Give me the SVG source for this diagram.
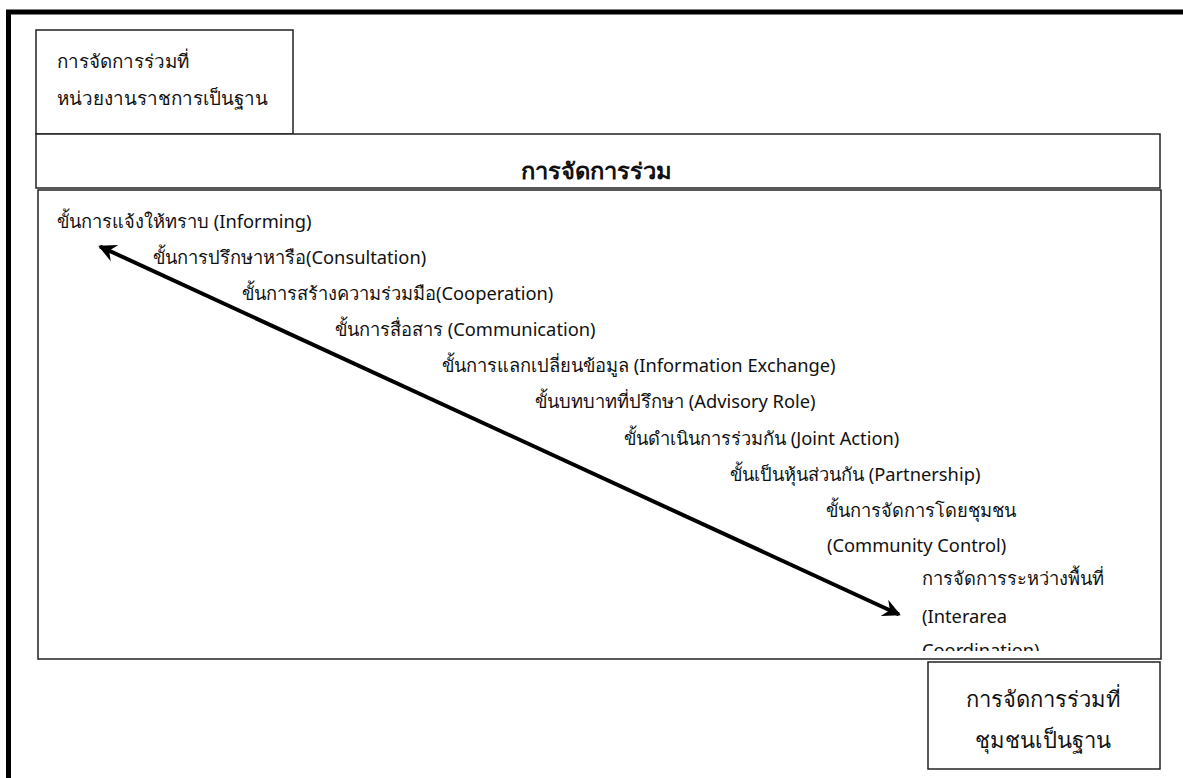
<svg xmlns="http://www.w3.org/2000/svg" width="1183" height="778" viewBox="0 0 1183 778">
<style>
.box{fill:#fff;stroke:#222;stroke-width:1.5}
.t{font-family:"Noto Sans","DejaVu Sans",sans-serif;font-size:18.3px;fill:#111}
.tl{font-family:"Noto Sans","DejaVu Sans",sans-serif;font-size:18.8px;fill:#111}
.big{font-family:"Noto Sans","DejaVu Sans",sans-serif;font-size:22px;fill:#111}
.hd{font-family:"Noto Sans","DejaVu Sans",sans-serif;font-size:22px;font-weight:bold;fill:#111}
.conn{stroke:#000;stroke-width:4;fill:none}
</style>
<defs>
<marker id="ah" markerUnits="userSpaceOnUse" markerWidth="26" markerHeight="22" viewBox="-21 -11 26 22" refX="0" refY="0" orient="auto-start-reverse">
<path d="M2,0 L-16,-9 L-10,0 L-16,9 Z" fill="#000"/>
</marker>
<clipPath id="mainclip"><rect x="38" y="190" width="1123" height="461"/></clipPath>
</defs>
<g id="frame">
<path d="M8.5,778 V12 H1183" fill="none" stroke="#000" stroke-width="5"/>
</g>
<g id="node-agency">
<rect class="box" x="36" y="30" width="257" height="104"/>
<text class="tl" x="57" y="68">การจัดการร่วมที่</text>
<text class="tl" x="57" y="105">หน่วยงานราชการเป็นฐาน</text>
</g>
<g id="node-header">
<rect class="box" x="36" y="134" width="1124" height="54"/>
<text class="hd" x="521" y="179" textLength="151" lengthAdjust="spacingAndGlyphs">การจัดการร่วม</text>
</g>
<g id="node-main">
<rect class="box" x="38" y="190" width="1123" height="469"/>
<g clip-path="url(#mainclip)">
<text class="t" x="57" y="228">ขั้นการแจ้งให้ทราบ (Informing)</text>
<text class="t" x="153" y="264">ขั้นการปรึกษาหารือ(Consultation)</text>
<text class="t" x="242" y="300">ขั้นการสร้างความร่วมมือ(Cooperation)</text>
<text class="t" x="335" y="336">ขั้นการสื่อสาร (Communication)</text>
<text class="t" x="442" y="372">ขั้นการแลกเปลี่ยนข้อมูล (Information Exchange)</text>
<text class="t" x="535" y="408">ขั้นบทบาทที่ปรึกษา (Advisory Role)</text>
<text class="t" x="624" y="445">ขั้นดำเนินการร่วมกัน (Joint Action)</text>
<text class="t" x="730" y="481">ขั้นเป็นหุ้นส่วนกัน (Partnership)</text>
<text class="t" x="826" y="517">ขั้นการจัดการโดยชุมชน</text>
<text class="t" x="827" y="552">(Community Control)</text>
<text class="t" x="922" y="585">การจัดการระหว่างพื้นที่</text>
<text class="t" x="922" y="623">(Interarea</text>
<text class="t" x="922" y="657">Coordination)</text>
</g>
</g>
<g id="node-community">
<rect class="box" x="928" y="662" width="232" height="107"/>
<text class="big" x="1043" y="707" text-anchor="middle">การจัดการร่วมที่</text>
<text class="big" x="1043" y="748" text-anchor="middle">ชุมชนเป็นฐาน</text>
</g>
<g id="connectors">
<line class="conn" x1="100" y1="246.5" x2="899" y2="614.5" marker-start="url(#ah)" marker-end="url(#ah)"/>
</g>
</svg>
